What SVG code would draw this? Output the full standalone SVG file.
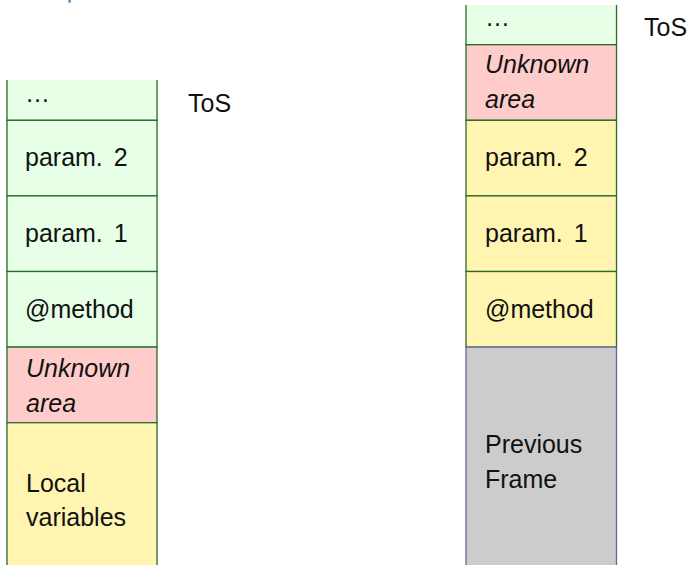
<svg xmlns="http://www.w3.org/2000/svg" width="697" height="565" viewBox="0 0 697 565">
<style>
text{font-family:"Liberation Sans",Arial,sans-serif;font-size:25px;fill:#111}
.it{font-style:italic}
.g{fill:#e6ffe6;stroke:#2a6a2a;stroke-width:1.3}
.r{fill:#ffcccc;stroke:#2a6a2a;stroke-width:1.3}
.y{fill:#fff5b0;stroke:#2a6a2a;stroke-width:1.3}
.k{fill:#cccccc;stroke:#66669a;stroke-width:1.3}
</style>
<rect width="697" height="565" fill="#fff"/>
<rect x="68.4" y="0" width="2.4" height="2.7" fill="#4a86c8"/>
<g id="left-stack">
  <g id="l-dots"><path class="g" d="M7,80 V120.3 H157 V80"/><text x="25" y="102" letter-spacing="1">…</text></g>
  <g id="l-param2"><rect class="g" x="7" y="120.3" width="150" height="75.6"/><text x="25" y="166">param.<tspan dx="11">2</tspan></text></g>
  <g id="l-param1"><rect class="g" x="7" y="195.9" width="150" height="75.6"/><text x="25" y="242">param.<tspan dx="11">1</tspan></text></g>
  <g id="l-method"><rect class="g" x="7" y="271.5" width="150" height="75.6"/><text x="25" y="318">@method</text></g>
  <g id="l-unknown"><rect class="r" x="7" y="347.1" width="150" height="75.6"/><text class="it" x="26" y="377">Unknown</text><text class="it" x="26" y="412">area</text></g>
  <g id="l-local"><rect class="y" x="7" y="422.7" width="150" height="180"/><text x="26" y="492">Local</text><text x="26" y="526">variables</text></g>
  <g id="l-tos"><text x="188" y="112">ToS</text></g>
</g>
<g id="right-stack">
  <g id="r-dots"><path class="g" d="M466,5 V44.7 H616.5 V5"/><text x="485" y="26" letter-spacing="1">…</text></g>
  <g id="r-unknown"><rect class="r" x="466" y="44.7" width="150.5" height="75.6"/><text class="it" x="485" y="73">Unknown</text><text class="it" x="485" y="108">area</text></g>
  <g id="r-param2"><rect class="y" x="466" y="120.3" width="150.5" height="75.6"/><text x="485" y="166">param.<tspan dx="11">2</tspan></text></g>
  <g id="r-param1"><rect class="y" x="466" y="195.9" width="150.5" height="75.6"/><text x="485" y="242">param.<tspan dx="11">1</tspan></text></g>
  <g id="r-method"><rect class="y" x="466" y="271.5" width="150.5" height="75.6"/><text x="485" y="318">@method</text></g>
  <g id="r-previous"><rect class="k" x="466" y="347.1" width="150.5" height="260"/><text x="485" y="453">Previous</text><text x="485" y="488">Frame</text></g>
  <g id="r-tos"><text x="644" y="36">ToS</text></g>
</g>
<g id="connectors"></g>
</svg>
